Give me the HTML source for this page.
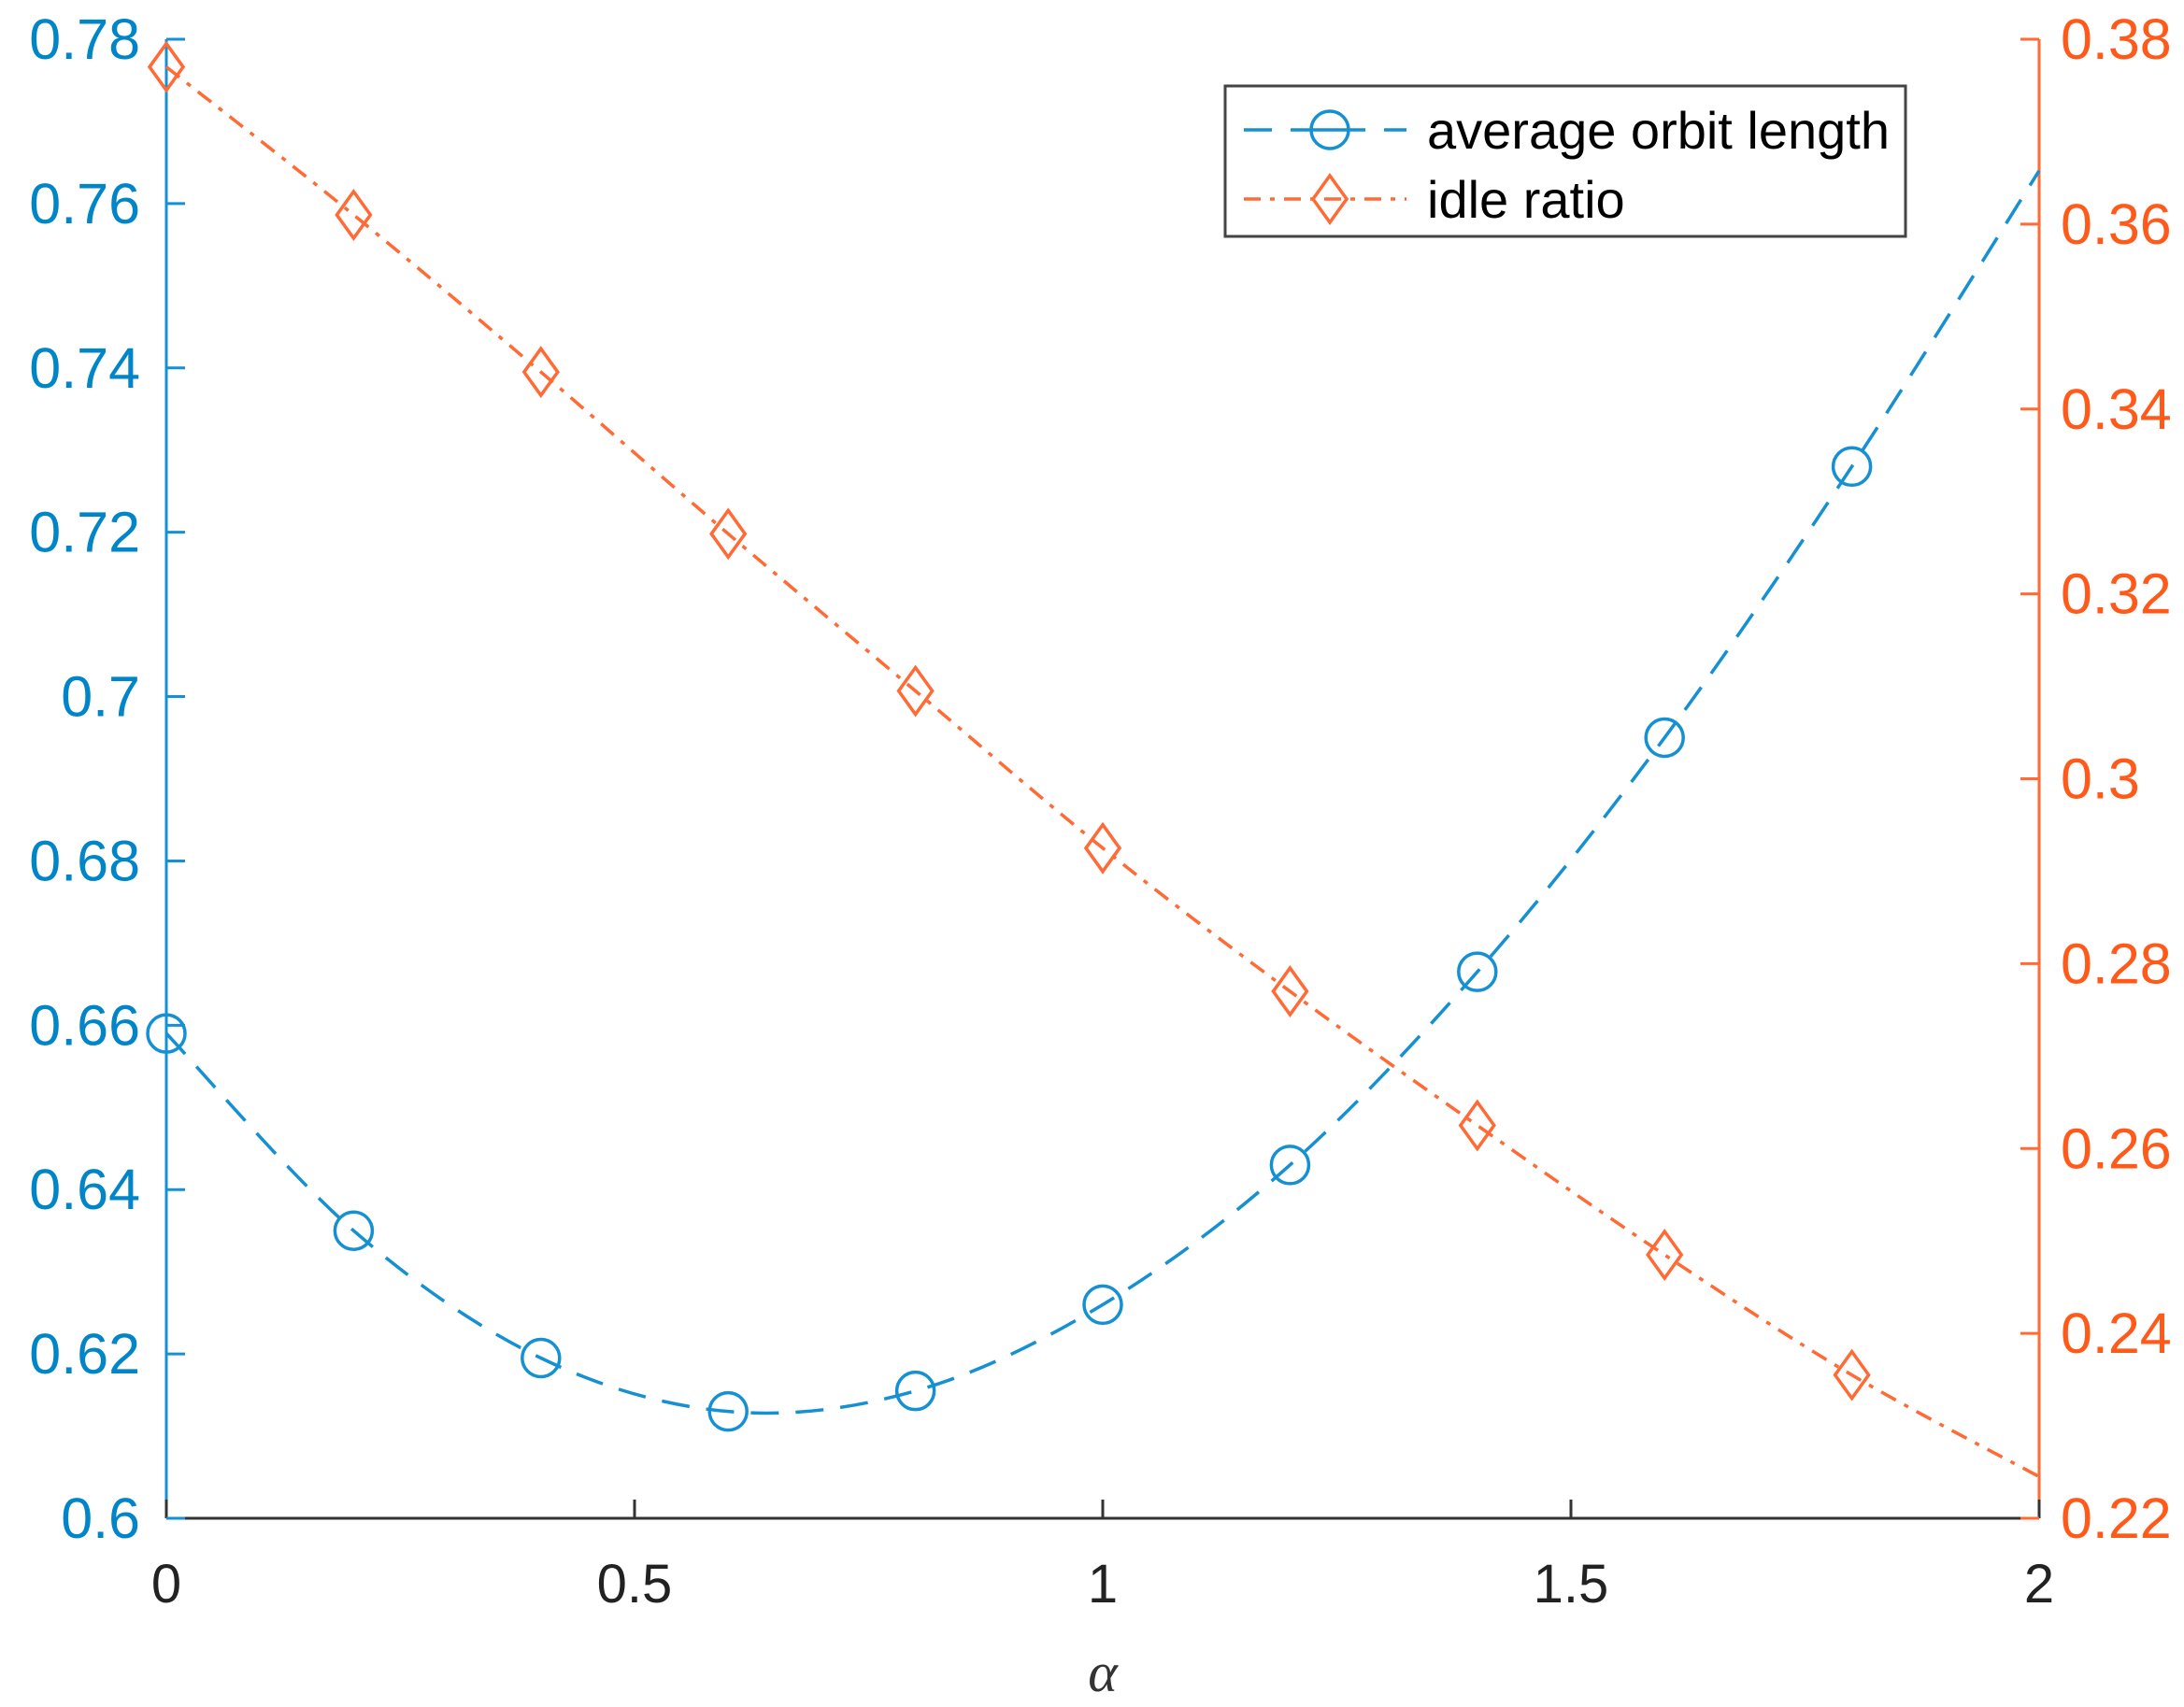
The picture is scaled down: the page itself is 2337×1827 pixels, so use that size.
<!DOCTYPE html>
<html><head><meta charset="utf-8"><style>html,body{margin:0;padding:0;background:#fff}svg{display:block}</style></head>
<body>
<svg id="s" width="2337" height="1827" xmlns="http://www.w3.org/2000/svg" font-family="Liberation Sans, Arial, sans-serif"></svg>
<script>
const L=178,R=2182,T=42,B=1625;
const X=v=>L+(R-L)*v/2;
const YL=v=>B-(B-T)*(v-0.6)/0.18;
const YR=v=>B-(B-T)*(v-0.22)/0.16;
const blue="#1590d2",blueT="#0085c8",org="#ff6a35",orgT="#ff5a1a";
let s='';
s+=`<line x1="${L}" y1="${B}" x2="${R}" y2="${B}" stroke="#333" stroke-width="3"/>`;
s+=`<line x1="${L}" y1="${T}" x2="${L}" y2="${B}" stroke="${blue}" stroke-width="3"/>`;
s+=`<line x1="${R}" y1="${T}" x2="${R}" y2="${B}" stroke="${org}" stroke-width="3"/>`;
for(let i=0;i<=4;i++){const x=X(i*0.5);s+=`<line x1="${x}" y1="${B}" x2="${x}" y2="${B-20}" stroke="#333" stroke-width="3"/>`;
s+=`<text x="${x}" y="${B+90}" font-size="58" text-anchor="middle" fill="#222">${['0','0.5','1','1.5','2'][i]}</text>`;}
for(let i=0;i<=9;i++){const v=0.6+i*0.02,y=YL(v);s+=`<line x1="${L}" y1="${y}" x2="${L+20}" y2="${y}" stroke="${blue}" stroke-width="3"/>`;
let t=(+v.toFixed(2)).toString();s+=`<text x="150" y="${y+21}" font-size="61" text-anchor="end" fill="${blueT}">${t}</text>`;}
for(let i=0;i<=8;i++){const v=0.22+i*0.02,y=YR(v);s+=`<line x1="${R}" y1="${y}" x2="${R-20}" y2="${y}" stroke="${org}" stroke-width="3"/>`;
let t=(+v.toFixed(2)).toString();s+=`<text x="2205" y="${y+21}" font-size="61" fill="${orgT}">${t}</text>`;}
s+=`<text x="${X(1)}" y="1810" font-size="60" font-style="italic" font-family="Liberation Serif, serif" text-anchor="middle" fill="#333">α</text>`;
const xs=[0,0.2,0.4,0.6,0.8,1,1.2,1.4,1.6,1.8,2];
const bl=[0.659,0.635,0.6195,0.613,0.6155,0.626,0.643,0.6665,0.695,0.728,0.764];
const or=[0.377,0.361,0.344,0.3265,0.3095,0.2925,0.277,0.2625,0.2485,0.2355,0.2245];
function smooth(pts){let d=`M${pts[0][0]},${pts[0][1]}`;for(let i=0;i<pts.length-1;i++){const p0=pts[i-1]||pts[i],p1=pts[i],p2=pts[i+1],p3=pts[i+2]||p2;
d+=` C${p1[0]+(p2[0]-p0[0])/6},${p1[1]+(p2[1]-p0[1])/6} ${p2[0]-(p3[0]-p1[0])/6},${p2[1]-(p3[1]-p1[1])/6} ${p2[0]},${p2[1]}`;}return d;}
const bp=xs.map((x,i)=>[X(x),YL(bl[i])]),op=xs.map((x,i)=>[X(x),YR(or[i])]);
s+=`<path d="${smooth(bp)}" fill="none" stroke="${blue}" stroke-width="3.5" stroke-dasharray="30,18"/>`;
s+=`<path d="${smooth(op)}" fill="none" stroke="${org}" stroke-width="3.5" stroke-dasharray="18,10,5,10"/>`;
for(let i=0;i<10;i++){s+=`<circle cx="${bp[i][0]}" cy="${bp[i][1]}" r="20" fill="none" stroke="${blue}" stroke-width="3.5"/>`;
const [x,y]=op[i];s+=`<polygon points="${x},${y-25} ${x+18},${y} ${x},${y+25} ${x-18},${y}" fill="none" stroke="${org}" stroke-width="3.5"/>`;}
// legend
s+=`<rect x="1311" y="92" width="728" height="161" fill="#fff" stroke="#444" stroke-width="3"/>`;
s+=`<line x1="1331" y1="139" x2="1505" y2="139" stroke="${blue}" stroke-width="3.5" stroke-dasharray="30,20"/>`;
s+=`<circle cx="1423" cy="139" r="20" fill="#fff" stroke="${blue}" stroke-width="3.5"/><line x1="1403" y1="139" x2="1443" y2="139" stroke="${blue}" stroke-width="3.5"/>`;
s+=`<line x1="1331" y1="213" x2="1505" y2="213" stroke="${org}" stroke-width="3.5" stroke-dasharray="18,10,5,10"/>`;
s+=`<polygon points="1423,188 1441,213 1423,238 1405,213" fill="none" stroke="${org}" stroke-width="3.5"/>`;
s+=`<text x="1527" y="159" font-size="56" fill="#000">average orbit length</text>`;
s+=`<text x="1527" y="233" font-size="56" fill="#000">idle ratio</text>`;
document.getElementById('s').innerHTML=s;
</script>
</body></html>
